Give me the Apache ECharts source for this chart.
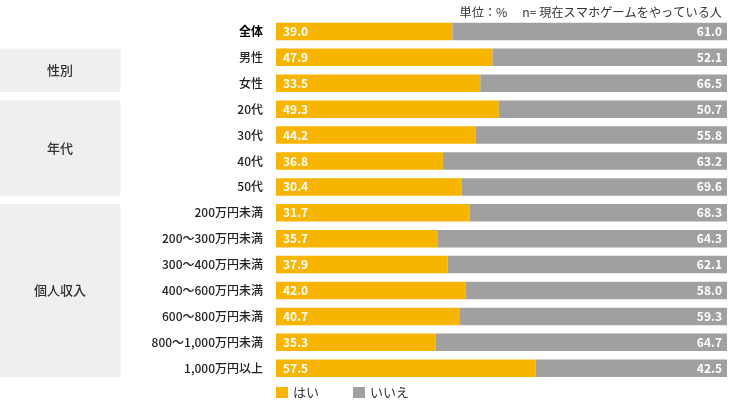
<!DOCTYPE html>
<html>
<head>
<meta charset="utf-8">
<script src="https://cdn.jsdelivr.net/npm/echarts@6/dist/echarts.min.js"></script>
<style>html,body{margin:0;padding:0;background:#fff}#c{width:740px;height:402px}</style>
</head>
<body>
<div id="c"></div>
<script>
var categories = ['全体','男性','女性','20代','30代','40代','50代','200万円未満','200〜300万円未満','300〜400万円未満','400〜600万円未満','600〜800万円未満','800〜1,000万円未満','1,000万円以上'];
// bar lengths as drawn in the picture
var yesValues = [39.1, 48.0, 45.3, 49.4, 44.3, 37.0, 41.2, 42.9, 35.9, 38.1, 42.1, 40.8, 35.4, 57.6];
// printed labels
var yesLabels = ['39.0','47.9','33.5','49.3','44.2','36.8','30.4','31.7','35.7','37.9','42.0','40.7','35.3','57.5'];
var noLabels  = ['61.0','52.1','66.5','50.7','55.8','63.2','69.6','68.3','64.3','62.1','58.0','59.3','64.7','42.5'];
var groups = [
  {name: '性別', from: 1, to: 2},
  {name: '年代', from: 3, to: 6},
  {name: '個人収入', from: 7, to: 13}
];
var seriesNames = ['はい', 'いいえ'];
var noValues = yesValues.map(function (v) { return +(100 - v).toFixed(1); });

var FONT = 'Noto Sans CJK JP';
var chart = echarts.init(document.getElementById('c'), null, {renderer: 'canvas'});
var option = {
  animation: false,
  textStyle: {fontFamily: FONT},
  title: {
    text: '単位：%　 n= 現在スマホゲームをやっている人',
    right: 13, top: 1,
    textStyle: {fontSize: 12.2, fontWeight: 'normal', color: '#333', fontFamily: FONT}
  },
  legend: {
    data: seriesNames,
    left: 276, top: 386, padding: 0,
    icon: 'rect', itemWidth: 12, itemHeight: 11, itemGap: 34,
    textStyle: {fontSize: 13, color: '#333', fontFamily: FONT}
  },
  grid: {left: 276, right: 13, top: 18.5, bottom: 20.8, containLabel: false},
  xAxis: {type: 'value', min: 0, max: 100, show: false},
  yAxis: {
    type: 'category', data: categories, inverse: true,
    axisLine: {show: false}, axisTick: {show: false},
    axisLabel: {
      margin: 13, fontSize: 12, color: '#222', fontWeight: 500, fontFamily: FONT,
      formatter: function (v, i) { return i === 0 ? '{b|' + v + '}' : v; },
      rich: {b: {fontSize: 12, fontWeight: 'bold', color: '#000', fontFamily: FONT}}
    }
  },
  series: [
    {
      name: seriesNames[0], type: 'bar', stack: 's', data: yesValues,
      barWidth: 17.5,
      itemStyle: {color: '#F8B500'},
      label: {
        show: true, position: 'insideLeft', distance: 7,
        color: '#fff', fontSize: 12, fontWeight: 'bold', fontFamily: FONT,
        formatter: function (p) { return yesLabels[p.dataIndex]; }
      }
    },
    {
      name: seriesNames[1], type: 'bar', stack: 's', data: noValues,
      barWidth: 17.5,
      itemStyle: {color: '#A0A0A0'},
      label: {
        show: true, position: 'insideRight', distance: 5,
        color: '#fff', fontSize: 12, fontWeight: 'bold', fontFamily: FONT,
        formatter: function (p) { return noLabels[p.dataIndex]; }
      }
    }
  ]
};
chart.setOption(option);

// group panels on the left, positioned from the category axis
var half = 17.5 / 2;
var graphics = [];
groups.forEach(function (g) {
  var y1 = chart.convertToPixel({yAxisIndex: 0}, categories[g.from]) - half;
  var y2 = chart.convertToPixel({yAxisIndex: 0}, categories[g.to]) + half;
  graphics.push({
    type: 'rect', z: -1,
    shape: {x: 0, y: y1, width: 120.5, height: y2 - y1},
    style: {fill: '#EFEFEF'}
  });
  graphics.push({
    type: 'text', z: 1,
    style: {
      x: 60, y: (y1 + y2) / 2, text: g.name,
      textAlign: 'center', textVerticalAlign: 'middle',
      font: '500 13px "' + FONT + '"', fill: '#333'
    }
  });
});
chart.setOption({graphic: graphics});
</script>
</body>
</html>
